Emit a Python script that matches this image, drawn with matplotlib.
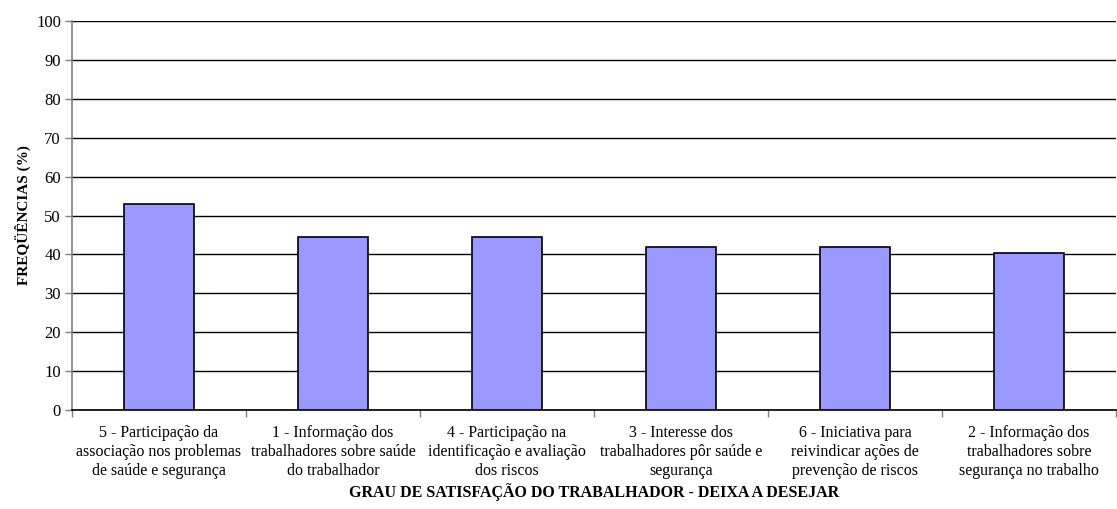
import matplotlib

matplotlib.use("Agg")
import matplotlib.pyplot as plt
import numpy as np

plt.rcParams["font.family"] = ["Liberation Serif", "DejaVu Serif"]

# Percentages per item, "deixa a desejar" answers
categorias = [
    "5 - Participação da\nassociação nos problemas\nde saúde e segurança",
    "1 - Informação dos\ntrabalhadores sobre saúde\ndo trabalhador",
    "4 - Participação na\nidentificação e avaliação\ndos riscos",
    "3 - Interesse dos\ntrabalhadores pôr saúde e\nsegurança",
    "6 - Iniciativa para\nreivindicar ações de\nprevenção de riscos",
    "2 - Informação dos\ntrabalhadores sobre\nsegurança no trabalho",
]
frequencias = [52.9, 44.5, 44.5, 41.8, 41.8, 40.4]
yticks = list(range(0, 101, 10))

fig = plt.figure(figsize=(11.17, 5.09), dpi=100)
ax = fig.add_axes([0.0645, 0.1945, 0.9345, 0.764])

x = np.arange(len(categorias))
ax.set_axisbelow(True)
ax.yaxis.grid(True, color="black", lw=1.0)
ax.bar(x, frequencias, width=0.4, color="#9999ff", edgecolor="black", lw=1.2, zorder=3)

ax.set_xlim(-0.5, len(categorias) - 0.5)
ax.set_ylim(0, 100)
ax.set_yticks(yticks)
ax.tick_params(axis="y", labelsize=12, length=5, width=1, color="#808080", pad=3)

# category labels sit between boundary ticks
ax.set_xticks(np.arange(len(categorias) + 1) - 0.5)
ax.set_xticklabels([])
ax.set_xticks(x, minor=True)
ax.set_xticklabels(categorias, minor=True, fontsize=11.5, linespacing=1.25)
ax.tick_params(axis="x", which="major", length=5, width=1, color="#808080")
ax.tick_params(axis="x", which="minor", length=0, pad=11)

for side in ("top", "right"):
    ax.spines[side].set_visible(False)
ax.spines["left"].set_color("#808080")
ax.spines["left"].set_linewidth(1.2)
ax.spines["bottom"].set_color("black")
ax.spines["bottom"].set_linewidth(1.2)

ax.set_xlabel("GRAU DE SATISFAÇÃO DO TRABALHADOR - DEIXA A DESEJAR",
              fontsize=11.5, fontweight="bold", labelpad=3)
ax.set_ylabel("FREQÜÊNCIAS (%)", fontsize=11, fontweight="bold", labelpad=4)

fig.savefig("out.png", dpi=100)
